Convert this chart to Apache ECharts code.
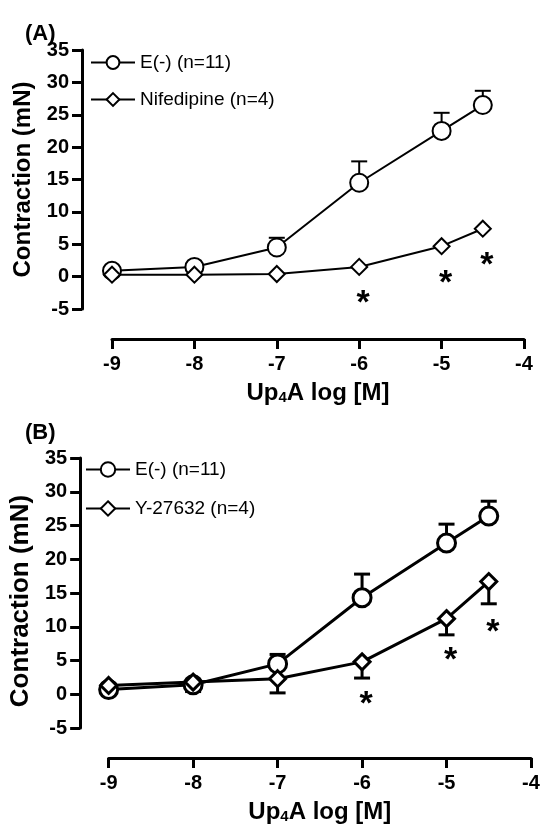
<!DOCTYPE html>
<html>
<head>
<meta charset="utf-8">
<script src="https://cdn.jsdelivr.net/npm/echarts@6/dist/echarts.min.js"></script>
<style>
  body { margin: 0; background: #fff; }
  #panelA { position: absolute; left: 0; top: 0; width: 543px; height: 410px; }
  #panelB { position: absolute; left: 0; top: 410px; width: 543px; height: 419px; }
</style>
</head>
<body>
<div id="panelA"></div>
<div id="panelB"></div>
<script>
// Up4A concentration, log [M]
const doses = [-9, -8, -7, -6, -5, -4.5];
const xTicks = [-9, -8, -7, -6, -5, -4];
const yTicks = [-5, 0, 5, 10, 15, 20, 25, 30, 35];

// Panel A
const eMeanA = [0.9, 1.5, 4.5, 14.5, 22.5, 26.5];
const eUpperA = [null, null, 6.0, 17.8, 25.3, 28.7];
const nifMeanA = [0.3, 0.3, 0.4, 1.5, 4.7, 7.4];
const starDosesA = [-6, -5, -4.5];
const starLevelsA = [-2.9, 0.1, 2.9];

// Panel B
const eMeanB = [0.7, 1.4, 4.5, 14.3, 22.4, 26.4];
const eUpperB = [null, null, 5.9, 17.8, 25.2, 28.6];
const yMeanB = [1.3, 1.8, 2.3, 4.8, 11.2, 16.7];
const yLowerB = [null, 0.4, 0.2, 2.4, 8.8, 13.4];
const starDosesB = [-6, -5, -4.5];
const starLevelsB = [-0.3, 6.2, 10.3];

const FONT = 'Liberation Sans, Arial, sans-serif';

function pairs(xs, ys) {
  return xs.map((x, i) => [x, ys[i]]);
}

function errorData(xs, means, ends) {
  const out = [];
  for (let i = 0; i < xs.length; i++) {
    if (ends[i] !== null) out.push([xs[i], means[i], ends[i]]);
  }
  return out;
}

function errorSeries(data, lw) {
  return {
    type: 'custom',
    z: 1,
    silent: true,
    data: data,
    renderItem: function (params, api) {
      const p0 = api.coord([api.value(0), api.value(1)]);
      const p1 = api.coord([api.value(0), api.value(2)]);
      const w = 8;
      const style = { stroke: '#000', lineWidth: lw };
      return {
        type: 'group',
        children: [
          { type: 'line', shape: { x1: p0[0], y1: p0[1], x2: p1[0], y2: p1[1] }, style: style },
          { type: 'line', shape: { x1: p1[0] - w, y1: p1[1], x2: p1[0] + w, y2: p1[1] }, style: style }
        ]
      };
    }
  };
}

function lineSeries(name, data, symbol, size, lw) {
  return {
    name: name,
    type: 'line',
    z: 3,
    data: data,
    symbol: symbol,
    symbolSize: size,
    lineStyle: { color: '#000', width: lw },
    itemStyle: { color: '#fff', borderColor: '#000', borderWidth: lw },
    emphasis: { disabled: true }
  };
}

function starSeries(xs, ys) {
  return {
    type: 'scatter',
    z: 4,
    silent: true,
    symbolSize: 0,
    itemStyle: { color: '#000', opacity: 1 },
    data: pairs(xs, ys),
    label: {
      show: true,
      formatter: '*',
      position: 'inside',
      offset: [4, 8],
      color: '#000',
      opacity: 1,
      textBorderWidth: 0,
      fontFamily: FONT,
      fontWeight: 'bold',
      fontSize: 34
    }
  };
}

function panelOption(cfg) {
  return {
    animation: false,
    title: {
      text: cfg.label,
      left: 20,
      top: cfg.labelTop,
      textStyle: { fontFamily: FONT, fontSize: 22, fontWeight: 'bold', color: '#000' }
    },
    legend: {
      left: cfg.legendLeft,
      top: cfg.legendTop,
      orient: 'vertical',
      itemWidth: 44,
      itemHeight: cfg.legendItemHeight,
      itemGap: cfg.legendGap,
      textStyle: { fontFamily: FONT, fontSize: 19, color: '#000' },
      data: cfg.legendNames
    },
    grid: cfg.grid,
    xAxis: {
      type: 'value',
      min: xTicks[0],
      max: xTicks[xTicks.length - 1],
      interval: 1,
      offset: cfg.xOffset,
      splitLine: { show: false },
      axisLine: { onZero: false, lineStyle: { color: '#000', width: 3 } },
      axisTick: { length: 10, lineStyle: { color: '#000', width: 3 } },
      axisLabel: { margin: 15, color: '#000', fontFamily: FONT, fontWeight: 'bold', fontSize: 20 },
      name: '{n|Up}{s|4}{n|A log [M]}',
      nameLocation: 'middle',
      nameGap: 42,
      nameTextStyle: {
        rich: {
          n: { fontFamily: FONT, fontWeight: 'bold', fontSize: 24, color: '#000' },
          s: { fontFamily: FONT, fontWeight: 'bold', fontSize: 15, color: '#000', verticalAlign: 'bottom' }
        }
      }
    },
    yAxis: {
      type: 'value',
      min: yTicks[0],
      max: yTicks[yTicks.length - 1],
      interval: 5,
      offset: cfg.yOffset,
      splitLine: { show: false },
      axisLine: { show: true, onZero: false, lineStyle: { color: '#000', width: 3 } },
      axisTick: { show: true, length: 10, lineStyle: { color: '#000', width: 3 } },
      axisLabel: { margin: 13, color: '#000', fontFamily: FONT, fontWeight: 'bold', fontSize: 20 },
      name: 'Contraction (mN)',
      nameLocation: 'middle',
      nameGap: cfg.yNameGap,
      nameTextStyle: {
        fontFamily: FONT, fontWeight: 'bold', fontSize: cfg.yNameSize, color: '#000',
        padding: cfg.yNamePad
      }
    },
    series: cfg.series
  };
}

// Panel A
const chartA = echarts.init(document.getElementById('panelA'));
chartA.setOption(panelOption({
  label: '(A)',
  labelTop: 18,
  legendLeft: 85,
  legendTop: 48,
  legendItemHeight: 16,
  legendGap: 18,
  legendNames: ['E(-) (n=11)', 'Nifedipine (n=4)'],
  grid: { left: 112, top: 50, width: 412, height: 263 },
  xOffset: 30,
  yOffset: 30,
  yNameGap: 45,
  yNameSize: 24,
  yNamePad: [0, 0, 0, 0],
  series: [
    errorSeries(errorData(doses, eMeanA, eUpperA), 2),
    lineSeries('E(-) (n=11)', pairs(doses, eMeanA), 'circle', 18, 2),
    lineSeries('Nifedipine (n=4)', pairs(doses, nifMeanA), 'diamond', 16, 2),
    starSeries(starDosesA, starLevelsA)
  ]
}));

// Panel B
const chartB = echarts.init(document.getElementById('panelB'));
chartB.setOption(panelOption({
  label: '(B)',
  labelTop: 7,
  legendLeft: 80,
  legendTop: 45,
  legendItemHeight: 18,
  legendGap: 20,
  legendNames: ['E(-) (n=11)', 'Y-27632 (n=4)'],
  grid: { left: 107.5, top: 48, width: 423.5, height: 271 },
  xOffset: 30,
  yOffset: 28.5,
  yNameGap: 41,
  yNameSize: 26,
  yNamePad: [0, 16, 0, 0],
  series: [
    errorSeries(errorData(doses, eMeanB, eUpperB), 3),
    errorSeries(errorData(doses, yMeanB, yLowerB), 3),
    lineSeries('E(-) (n=11)', pairs(doses, eMeanB), 'circle', 18, 3),
    lineSeries('Y-27632 (n=4)', pairs(doses, yMeanB), 'diamond', 16, 3),
    starSeries(starDosesB, starLevelsB)
  ]
}));
</script>
</body>
</html>
